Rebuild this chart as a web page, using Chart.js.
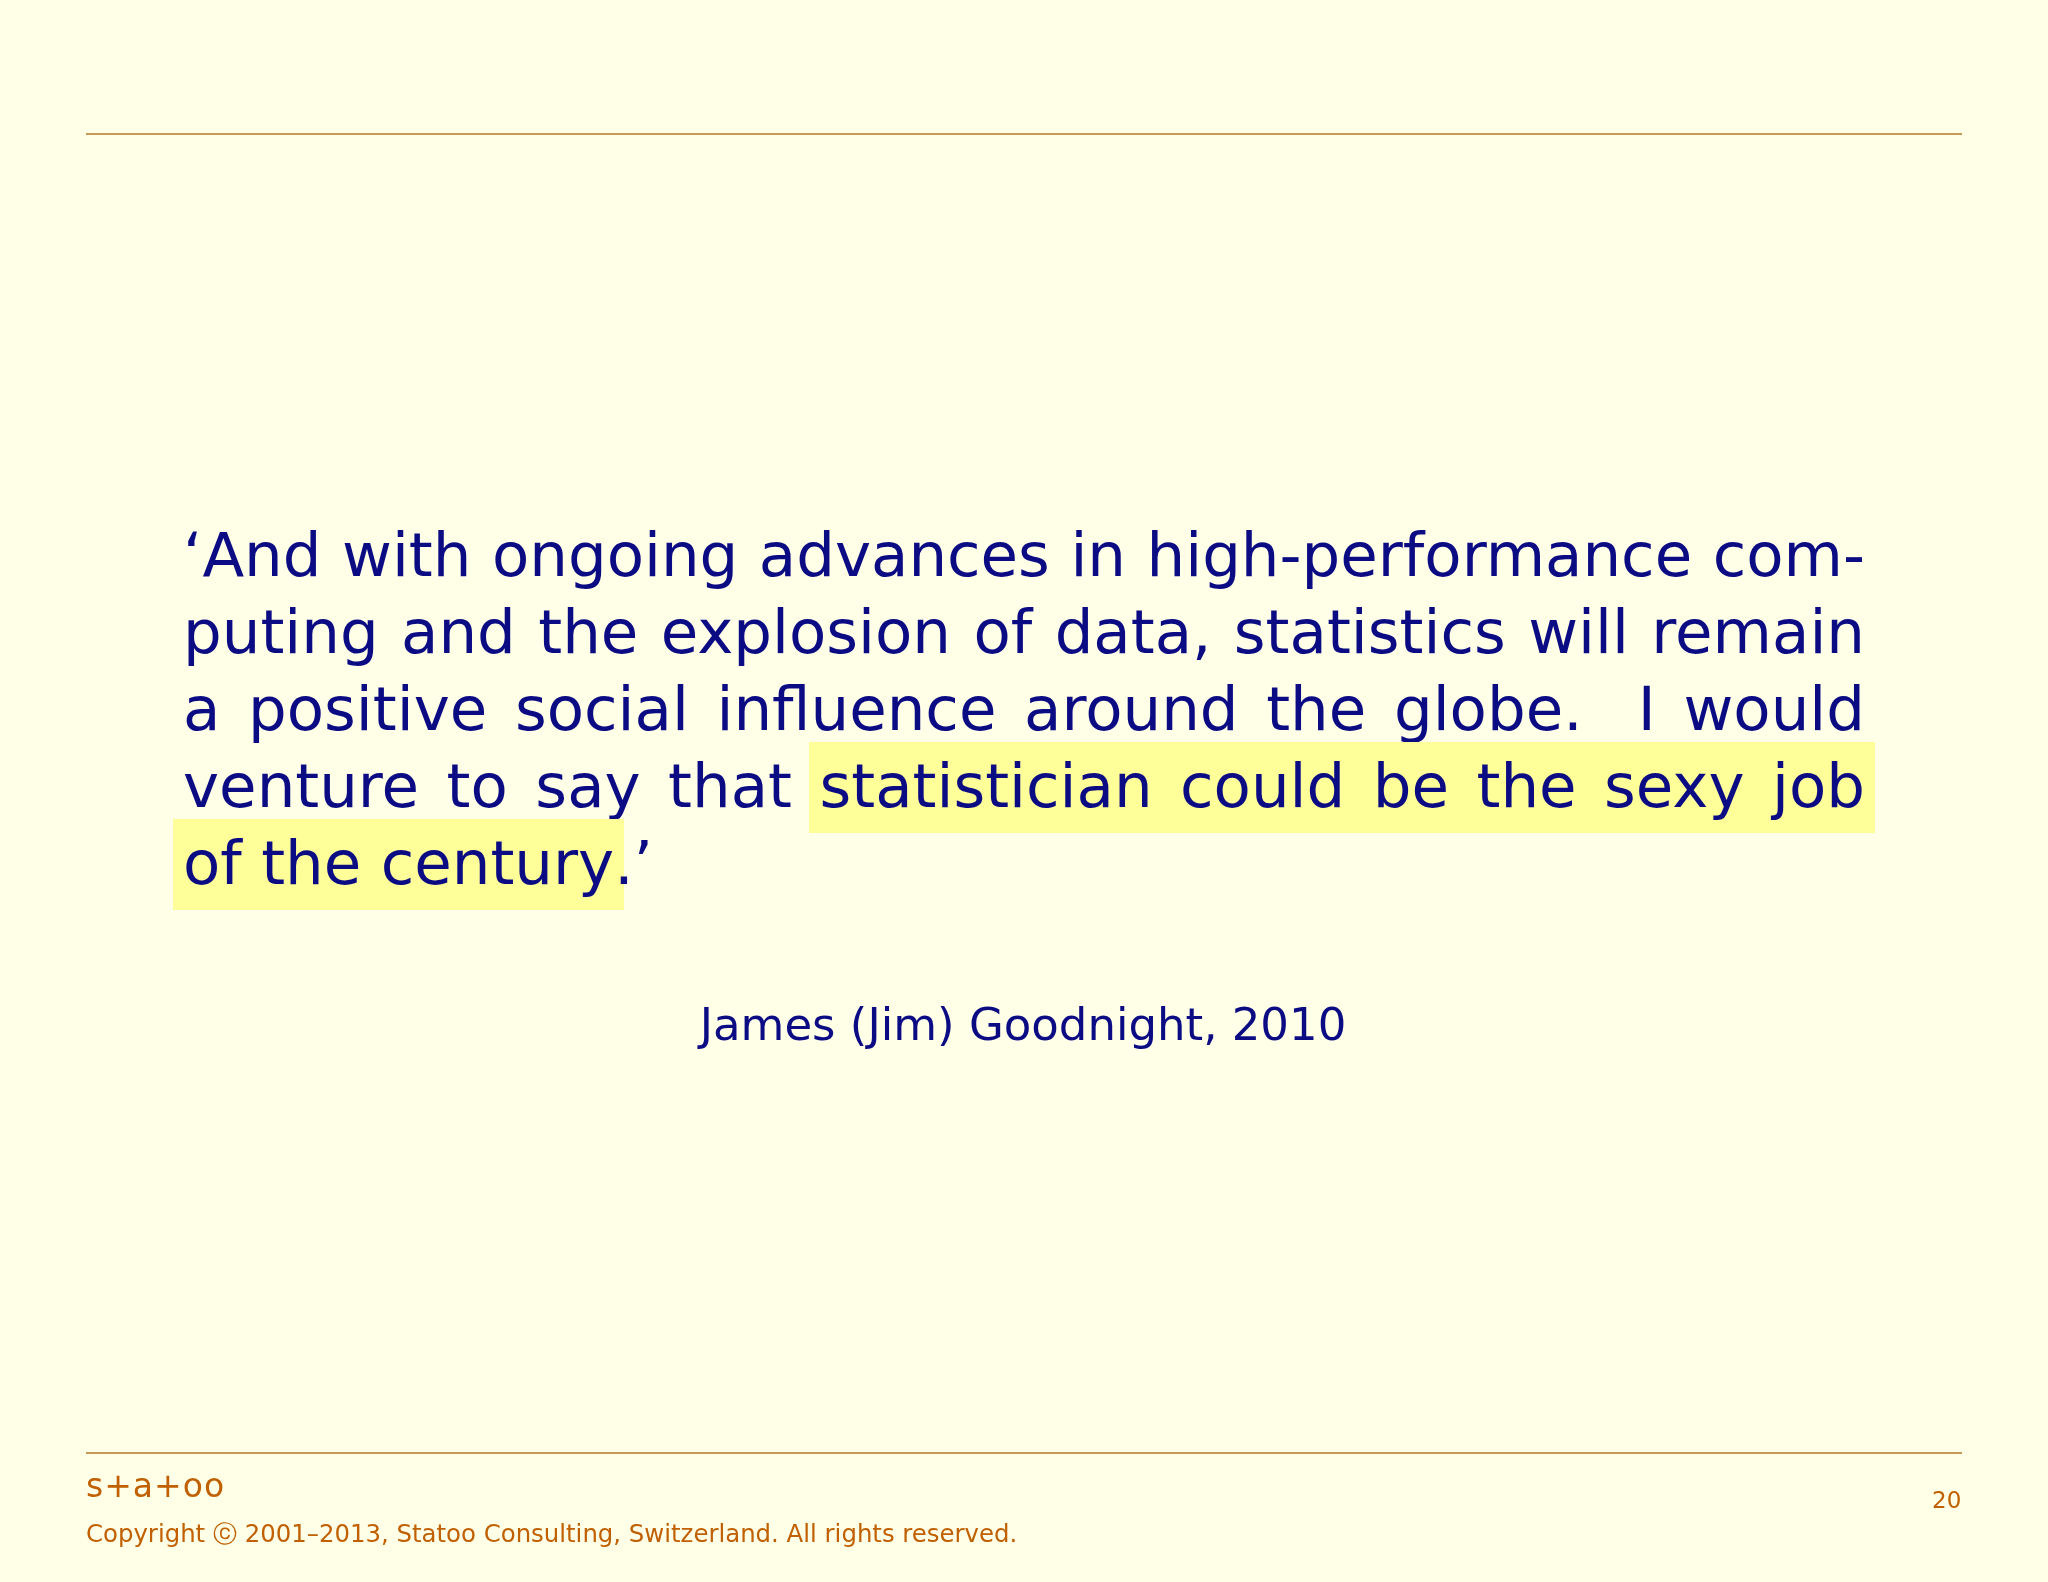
<!DOCTYPE html>
<html><head><meta charset="utf-8">
<script src="https://cdn.jsdelivr.net/npm/chart.js@4"></script>
<style>
html,body{margin:0;padding:0;}
body{width:2048px;height:1582px;background:#FFFFE8;position:relative;overflow:hidden;font-family:"DejaVu Sans",sans-serif;}
#bg{position:absolute;left:0;top:0;width:2048px;height:1582px;}
.rule{position:absolute;left:86px;width:1876px;height:0;border-top:2px solid #C89A5A;}
.quote{position:absolute;left:183px;width:1682px;top:516px;color:#0B0B84;font-size:61px;line-height:77px;}
.ln{display:block;text-align:justify;text-align-last:justify;white-space:nowrap;height:77px;}
.ln.last{text-align-last:left;}
.hl{background:#FFFF99;padding:8px 10px 12px 10px;margin:0 -10px;}
.attr{position:absolute;left:0;width:2046px;text-align:center;top:998px;color:#0B0B84;font-size:45px;}
.brand{position:absolute;left:86px;top:1466px;color:#C06000;font-size:33px;letter-spacing:1px;}
.copy{position:absolute;left:86px;top:1518px;color:#C06000;font-size:24.4px;}
.pg{position:absolute;left:1932px;top:1487px;color:#C06000;font-size:23px;}
</style></head>
<body>
<canvas id="bg" width="2048" height="1582"></canvas>
<div class="rule" style="top:133px"></div>
<div class="rule" style="top:1452px"></div>
<div class="quote">
<span class="ln">‘And with ongoing advances in high-performance com-</span>
<span class="ln">puting and the explosion of data, statistics will remain</span>
<span class="ln">a positive social influence around the globe. &nbsp;I would</span>
<span class="ln">venture to say that <span class="hl">statistician could be the sexy job</span></span>
<span class="ln last"><span class="hl">of the century</span>.’</span>
</div>
<div class="attr">James (Jim) Goodnight, 2010</div>
<div class="brand">s+a+oo</div>
<div class="copy">Copyright ⓒ 2001–2013, Statoo Consulting, Switzerland. All rights reserved.</div>
<div class="pg">20</div>
<script>
const categories = [];
const values = [];
new Chart(document.getElementById('bg'), {
  type: 'line',
  data: { labels: categories, datasets: [{ data: values }] },
  options: { responsive:false, animation:false,
    plugins:{legend:{display:false},tooltip:{enabled:false}},
    scales:{x:{display:false},y:{display:false}} }
});
</script>
</body></html>
